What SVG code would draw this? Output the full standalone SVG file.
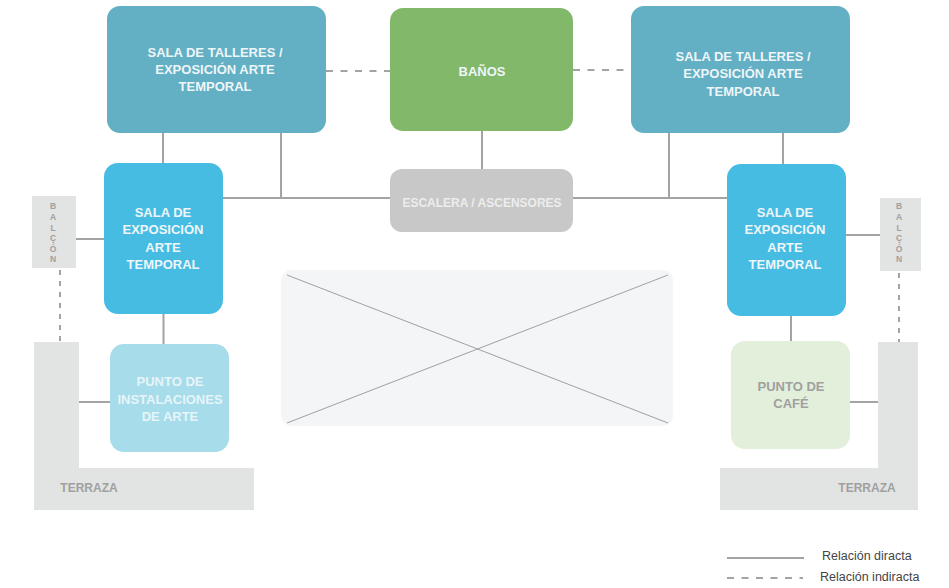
<svg xmlns="http://www.w3.org/2000/svg" width="949" height="588" viewBox="0 0 949 588">
<style>
.t{font-family:"Liberation Sans",Arial,sans-serif;font-weight:bold;font-size:13px;text-anchor:middle}
.w{fill:#EEF6F9}
.g{fill:#A0A0A0}
.c{stroke:#A3A3A3;stroke-width:2;fill:none}
.d{stroke:#A3A3A3;stroke-width:2;fill:none;stroke-dasharray:7 7.5}
.dv{stroke:#A3A3A3;stroke-width:2;fill:none;stroke-dasharray:5 6}
.bal{font-family:"Liberation Sans",Arial,sans-serif;font-weight:bold;font-size:8.5px;fill:#A0A0A0;text-anchor:middle}
.leg{font-family:"Liberation Sans",Arial,sans-serif;font-size:12.5px;fill:#444}
</style>
<rect width="949" height="588" fill="#FFFFFF"/>
<g id="connectors">
<line class="d" x1="326" y1="71" x2="390" y2="71"/>
<line class="d" x1="573" y1="70" x2="631" y2="70"/>
<line class="c" x1="163" y1="133" x2="163" y2="163"/>
<line class="c" x1="281" y1="133" x2="281" y2="198"/>
<line class="c" x1="482" y1="131" x2="482" y2="169"/>
<line class="c" x1="223" y1="198" x2="390" y2="198"/>
<line class="c" x1="573" y1="198" x2="727" y2="198"/>
<line class="c" x1="669" y1="133" x2="669" y2="198"/>
<line class="c" x1="783" y1="133" x2="783" y2="164"/>
<line class="c" x1="76" y1="239" x2="104" y2="239"/>
<line class="c" x1="846" y1="235" x2="880" y2="235"/>
<line class="c" x1="163.5" y1="314" x2="163.5" y2="344"/>
<line class="c" x1="791" y1="316" x2="791" y2="341"/>
<line class="c" x1="79" y1="402" x2="110" y2="402"/>
<line class="c" x1="850" y1="402" x2="878" y2="402"/>
<line class="dv" x1="60" y1="270" x2="60" y2="342"/>
<line class="dv" x1="899" y1="273" x2="899" y2="342"/>
</g>
<g id="placeholder">
<rect x="281" y="270" width="392" height="156" rx="10" fill="#F4F5F7"/>
<line x1="287" y1="275" x2="668" y2="423" stroke="#A0A0A0" stroke-width="1"/>
<line x1="287" y1="423" x2="668" y2="275" stroke="#A0A0A0" stroke-width="1"/>
</g>
<g id="sala-talleres-izq">
<rect x="107" y="6" width="219" height="127" rx="13" fill="#63AFC4"/>
<text class="t w" x="215" y="57">SALA DE TALLERES /</text>
<text class="t w" x="215" y="74">EXPOSICIÓN ARTE</text>
<text class="t w" x="215" y="91">TEMPORAL</text>
</g>
<g id="banos">
<rect x="390" y="8" width="183" height="123" rx="13" fill="#82B86A"/>
<text class="t w" x="482" y="76">BAÑOS</text>
</g>
<g id="sala-talleres-der">
<rect x="631" y="6" width="219" height="127" rx="13" fill="#63AFC4"/>
<text class="t w" x="743" y="61">SALA DE TALLERES /</text>
<text class="t w" x="743" y="78">EXPOSICIÓN ARTE</text>
<text class="t w" x="743" y="96">TEMPORAL</text>
</g>
<g id="escalera">
<rect x="390" y="169" width="183" height="63" rx="12" fill="#C8C8C8"/>
<text class="t" x="482" y="207" style="font-size:12px;fill:#EDEDED">ESCALERA / ASCENSORES</text>
</g>
<g id="sala-exposicion-izq">
<rect x="104" y="163" width="119" height="151" rx="14" fill="#47BCE3"/>
<text class="t w" x="163" y="217">SALA DE</text>
<text class="t w" x="163" y="234">EXPOSICIÓN</text>
<text class="t w" x="163" y="252">ARTE</text>
<text class="t w" x="163" y="269">TEMPORAL</text>
</g>
<g id="sala-exposicion-der">
<rect x="727" y="164" width="119" height="152" rx="14" fill="#47BCE3"/>
<text class="t w" x="785" y="217">SALA DE</text>
<text class="t w" x="785" y="234">EXPOSICIÓN</text>
<text class="t w" x="785" y="252">ARTE</text>
<text class="t w" x="785" y="269">TEMPORAL</text>
</g>
<g id="balcon-izq">
<rect x="32" y="196" width="44" height="72" fill="#E2E3E3"/>
<text class="bal" x="53" y="209">B</text>
<text class="bal" x="53" y="220">A</text>
<text class="bal" x="53" y="231">L</text>
<text class="bal" x="53" y="241">Ç</text>
<text class="bal" x="53" y="251.5">Ó</text>
<text class="bal" x="53" y="261.5">N</text>
</g>
<g id="balcon-der">
<rect x="880" y="198" width="41" height="73" fill="#E2E3E3"/>
<text class="bal" x="899" y="209">B</text>
<text class="bal" x="899" y="220">A</text>
<text class="bal" x="899" y="231">L</text>
<text class="bal" x="899" y="241">Ç</text>
<text class="bal" x="899" y="251.5">Ó</text>
<text class="bal" x="899" y="261.5">N</text>
</g>
<g id="terraza-izq">
<path d="M34 342 H79 V468 H254 V510 H34 Z" fill="#E2E3E3"/>
<text class="t g" x="89" y="492" style="font-size:12px">TERRAZA</text>
</g>
<g id="terraza-der">
<path d="M878 342 H918 V510 H720 V468 H878 Z" fill="#E2E3E3"/>
<text class="t g" x="867" y="492" style="font-size:12px">TERRAZA</text>
</g>
<g id="punto-instalaciones">
<rect x="110" y="344" width="119" height="108" rx="14" fill="#A7DCEA"/>
<text class="t" x="170" y="386" fill="#E6F5F9">PUNTO DE</text>
<text class="t" x="170" y="404" fill="#E6F5F9">INSTALACIONES</text>
<text class="t" x="170" y="421" fill="#E6F5F9">DE ARTE</text>
</g>
<g id="punto-cafe">
<rect x="731" y="341" width="119" height="108" rx="14" fill="#E2EFDA"/>
<text class="t g" x="791" y="391">PUNTO DE</text>
<text class="t g" x="791" y="408">CAFÉ</text>
</g>
<g id="legend">
<line class="c" x1="727" y1="558" x2="804" y2="558"/>
<line class="d" x1="727" y1="578" x2="803" y2="578"/>
<text class="leg" x="822" y="560">Relación diracta</text>
<text class="leg" x="820" y="581">Relación indiracta</text>
</g>
</svg>
